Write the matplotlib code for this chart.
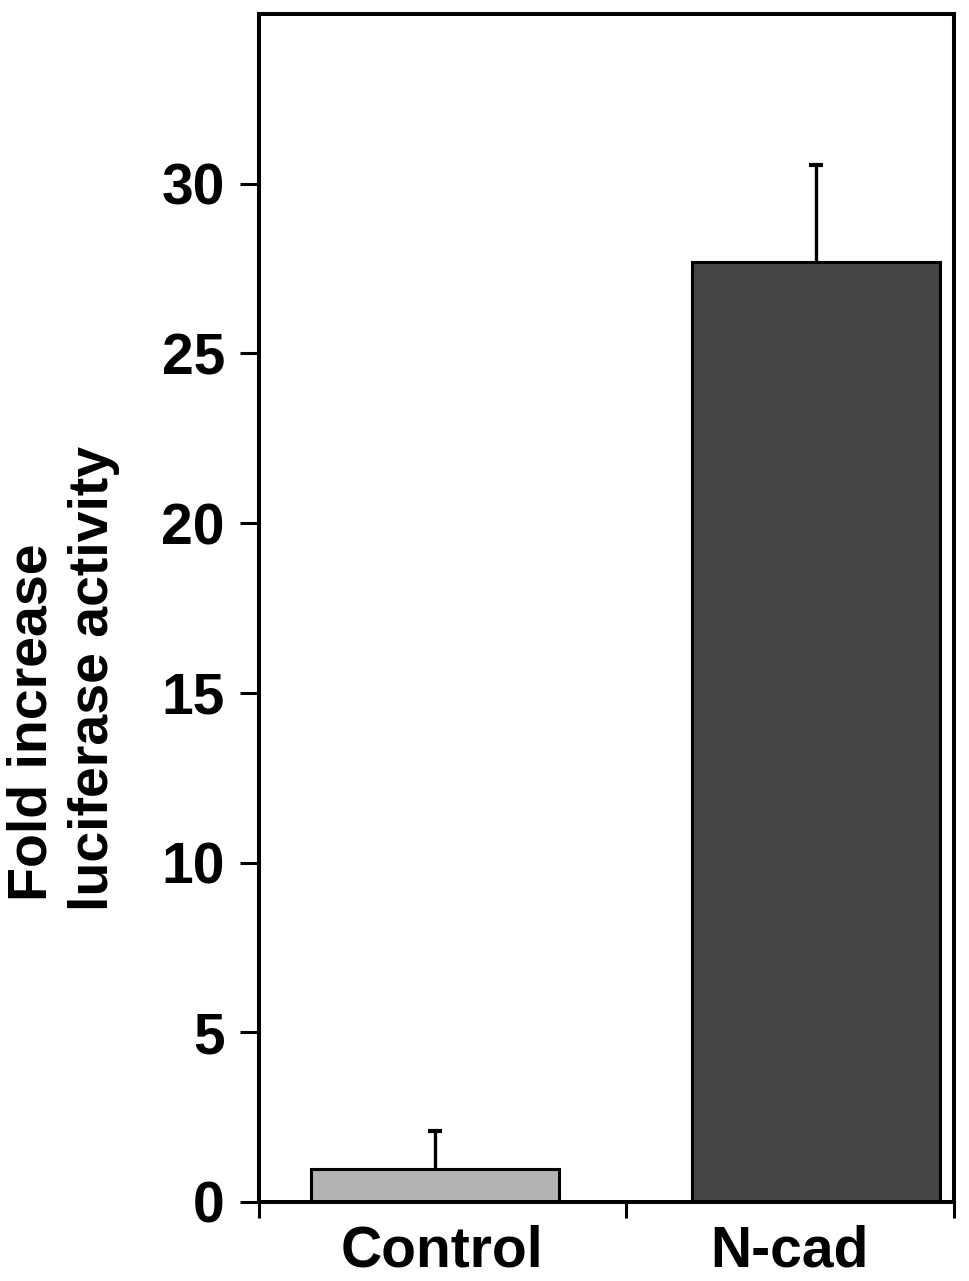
import matplotlib.pyplot as plt
import numpy as np

plt.rcParams['font.family'] = ['Liberation Sans', 'DejaVu Sans']
plt.rcParams['font.weight'] = 'bold'

# datos
grupos = ['Control', 'N-cad']
valores = [0.97, 27.7]
errores = [1.12, 2.85]
colores = ['#b3b3b3', '#444444']
yticks = [0, 5, 10, 15, 20, 25, 30]

fig = plt.figure(figsize=(9.69, 12.81), dpi=100)
ax = fig.add_axes([0.2673, 0.0617, 0.7172, 0.9274])

x = np.arange(len(grupos))
valores = np.array(valores)
errores = np.array(errores)
ax.bar(x, valores, width=0.65, color=colores, edgecolor='black', linewidth=2.2,
       zorder=2)
# solo la mitad superior del error, con tapa arriba
ax.errorbar(x, valores, yerr=[np.zeros(len(errores)), errores], fmt='none',
            ecolor='black', elinewidth=2.4, capsize=0, zorder=1)
ax.plot(x, valores + errores, ls='none', marker='_', markersize=9.5,
        markeredgewidth=3, color='black', zorder=3)

xmin, xmax = -0.462, 1.362
ax.set_xlim(xmin, xmax)
ax.set_ylim(0, 35)

# ticks
ax.set_yticks(yticks)
ax.set_yticklabels([str(v) for v in yticks], fontsize=41, fontweight='bold')
ax.tick_params(axis='y', direction='out', length=13.5, width=2.2, pad=11)

limites = [xmin, 0.5, xmax]
ax.set_xticks(limites, minor=True)
ax.tick_params(axis='x', which='minor', direction='out', length=11.5, width=2.2)
centros = [(limites[i] + limites[i + 1]) / 2 for i in range(len(grupos))]
ax.set_xticks(centros)
ax.set_xticklabels(grupos, fontsize=41, fontweight='bold')
ax.tick_params(axis='x', which='major', length=0, pad=16)

for s in ax.spines.values():
    s.set_linewidth(2.9)

# etiqueta del eje y en dos lineas
fig.text(0.034, 1 - 722 / 1281, 'Fold increase', rotation=90, fontsize=40,
         fontweight='bold', ha='center', va='center')
fig.text(0.097, 1 - 678 / 1281, 'luciferase activity', rotation=90, fontsize=40,
         fontweight='bold', ha='center', va='center')

fig.savefig('out.png', dpi=100)
